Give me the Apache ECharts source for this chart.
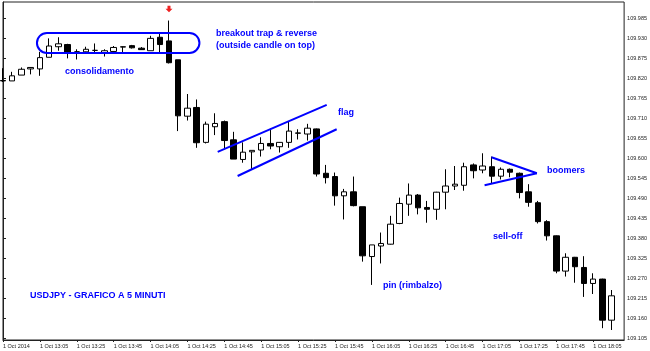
<!DOCTYPE html>
<html><head><meta charset="utf-8">
<script src="https://cdn.jsdelivr.net/npm/echarts@6/dist/echarts.min.js"></script>
<style>html,body{margin:0;padding:0;background:#fff}#c{width:650px;height:351px}</style>
</head><body><div id="c"></div>
<script>
// 5-minute bars, 1 Oct 2014 12:45 .. 18:15 (bar index 0..66)
const opens = [109.813,109.812,109.828,109.845,109.845,109.877,109.906,109.912,109.892,109.892,109.896,109.890,109.893,109.905,109.909,109.902,109.895,109.932,109.922,109.870,109.715,109.739,109.643,109.686,109.700,109.650,109.596,109.617,109.622,109.640,109.631,109.643,109.668,109.666,109.680,109.558,109.549,109.496,109.507,109.466,109.329,109.358,109.363,109.420,109.473,109.498,109.464,109.459,109.506,109.523,109.525,109.581,109.567,109.576,109.550,109.569,109.558,109.507,109.477,109.425,109.386,109.289,109.327,109.299,109.255,109.267,109.154];
const closes = [109.812,109.826,109.844,109.849,109.876,109.908,109.914,109.890,109.892,109.899,109.896,109.895,109.904,109.906,109.903,109.898,109.929,109.912,109.862,109.716,109.737,109.642,109.693,109.695,109.648,109.597,109.616,109.621,109.640,109.633,109.643,109.674,109.669,109.682,109.556,109.546,109.496,109.507,109.469,109.331,109.361,109.365,109.418,109.475,109.498,109.463,109.459,109.506,109.523,109.528,109.576,109.565,109.578,109.550,109.569,109.561,109.505,109.478,109.425,109.386,109.289,109.327,109.301,109.255,109.267,109.154,109.221];
const lows = [109.809,109.812,109.828,109.830,109.826,109.877,109.895,109.874,109.871,109.886,109.888,109.879,109.888,109.890,109.901,109.897,109.895,109.888,109.860,109.674,109.703,109.628,109.640,109.663,109.624,109.597,109.587,109.570,109.604,109.624,109.615,109.628,109.651,109.648,109.549,109.530,109.469,109.431,109.467,109.315,109.251,109.310,109.362,109.418,109.441,109.445,109.422,109.430,109.459,109.512,109.510,109.544,109.558,109.530,109.541,109.547,109.489,109.466,109.420,109.373,109.283,109.274,109.257,109.218,109.226,109.132,109.127];
const highs = [109.847,109.837,109.849,109.850,109.892,109.929,109.932,109.914,109.899,109.906,109.915,109.899,109.908,109.907,109.911,109.905,109.936,109.945,109.978,109.870,109.776,109.761,109.700,109.723,109.703,109.672,109.643,109.621,109.657,109.681,109.644,109.700,109.679,109.694,109.681,109.581,109.560,109.515,109.549,109.466,109.361,109.395,109.441,109.491,109.530,109.501,109.482,109.507,109.569,109.578,109.587,109.585,109.613,109.604,109.574,109.571,109.560,109.528,109.482,109.429,109.387,109.338,109.328,109.330,109.283,109.268,109.237];

const timeLabelBars = [0,4,8,12,16,20,24,28,32,36,40,44,48,52,56,60,64];
const timeLabels = ['1 Oct 2014','1 Oct 13:05','1 Oct 13:25','1 Oct 13:45','1 Oct 14:05','1 Oct 14:25','1 Oct 14:45','1 Oct 15:05','1 Oct 15:25','1 Oct 15:45','1 Oct 16:05','1 Oct 16:25','1 Oct 16:45','1 Oct 17:05','1 Oct 17:25','1 Oct 17:45','1 Oct 18:05'];
const priceTicks = [109.105,109.160,109.215,109.270,109.325,109.380,109.435,109.490,109.545,109.600,109.655,109.710,109.765,109.820,109.875,109.930,109.985];
const priceMin = 109.0995, priceMax = 110.029;
const barMin = 0, barMax = 67.35;

// annotation geometry in data coordinates [bar, price]
const flagUpper = [[23.28,109.617],[35.10,109.746]];
const flagLower = [[25.44,109.5505],[36.18,109.679]];
const pennantUpper = [[52.97,109.602],[57.89,109.558]];
const pennantLower = [[52.22,109.525],[57.89,109.558]];
const consolidationBox = [[3.68,109.9438],[21.3,109.8888]];
const arrowBar = 18, arrowPrice = 110.0105;

const candles = opens.map((o,i)=>[i,o,closes[i],lows[i],highs[i]]);
const AX = {fontFamily:'Liberation Sans', fontSize:5.5, color:'#222'};
const blue = '#0000ff';
function lineSeries(pts){
  return {type:'line', data:pts, symbol:'none', silent:true, z:5,
    lineStyle:{color:blue,width:2}, animation:false};
}
const chart = echarts.init(document.getElementById('c'));
chart.setOption({
  animation:false,
  backgroundColor:'#fff',
  grid:{left:2,top:2,right:25,bottom:11,show:true,borderColor:'#222',borderWidth:1,backgroundColor:'transparent'},
  xAxis:{type:'value',min:barMin,max:barMax,
    axisLine:{show:true,lineStyle:{color:'#222'}},
    splitLine:{show:false},
    axisTick:{show:true,length:2,customValues:timeLabelBars,lineStyle:{color:'#222'}},
    axisLabel:Object.assign({customValues:timeLabelBars,align:'left',margin:3,
      formatter:v=>timeLabels[timeLabelBars.indexOf(Math.round(v))]||''},AX)},
  yAxis:{type:'value',position:'right',min:priceMin,max:priceMax,
    axisLine:{show:true,lineStyle:{color:'#222'}},
    splitLine:{show:false},
    axisTick:{show:true,length:3,customValues:priceTicks,lineStyle:{color:'#222'}},
    axisLabel:Object.assign({customValues:priceTicks,margin:3,formatter:v=>v.toFixed(3)},AX)},
  series:[
    {type:'candlestick',data:candles,barWidth:6,clip:true,
      itemStyle:{color:'#ffffff',color0:'#000000',borderColor:'#000000',borderColor0:'#000000',borderColorDoji:'#000000',borderWidth:1}},
    lineSeries(flagUpper),lineSeries(flagLower),lineSeries(pennantUpper),lineSeries(pennantLower)
  ]
});
const p0 = chart.convertToPixel({gridIndex:0}, consolidationBox[0]);
const p1 = chart.convertToPixel({gridIndex:0}, consolidationBox[1]);
const pa = chart.convertToPixel({gridIndex:0}, [arrowBar, arrowPrice]);
const txt = (t,x,y)=>({type:'text',z:10,style:{text:t,x:x,y:y,fill:blue,fontFamily:'Liberation Sans',fontSize:9,fontWeight:'bold',verticalAlign:'middle'}});
chart.setOption({graphic:[
  {type:'rect',z:9,shape:{x:p0[0],y:p0[1],width:p1[0]-p0[0],height:p1[1]-p0[1],r:10},style:{fill:'none',stroke:blue,lineWidth:2}},
  {type:'polygon',z:10,x:pa[0],y:pa[1],shape:{points:[[-1.5,-3],[1.5,-3],[1.5,0],[3.5,0],[0,3.5],[-3.5,0],[-1.5,0]]},style:{fill:'#ee2222'}},
  txt('consolidamento',65,72),
  txt('breakout trap & reverse',216,34),
  txt('(outside candle on top)',216,45.5),
  txt('flag',338,113),
  txt('boomers',547,171),
  txt('sell-off',493,237),
  txt('pin (rimbalzo)',383,286),
  txt('USDJPY - GRAFICO A 5 MINUTI',30,296)
]});
</script></body></html>
